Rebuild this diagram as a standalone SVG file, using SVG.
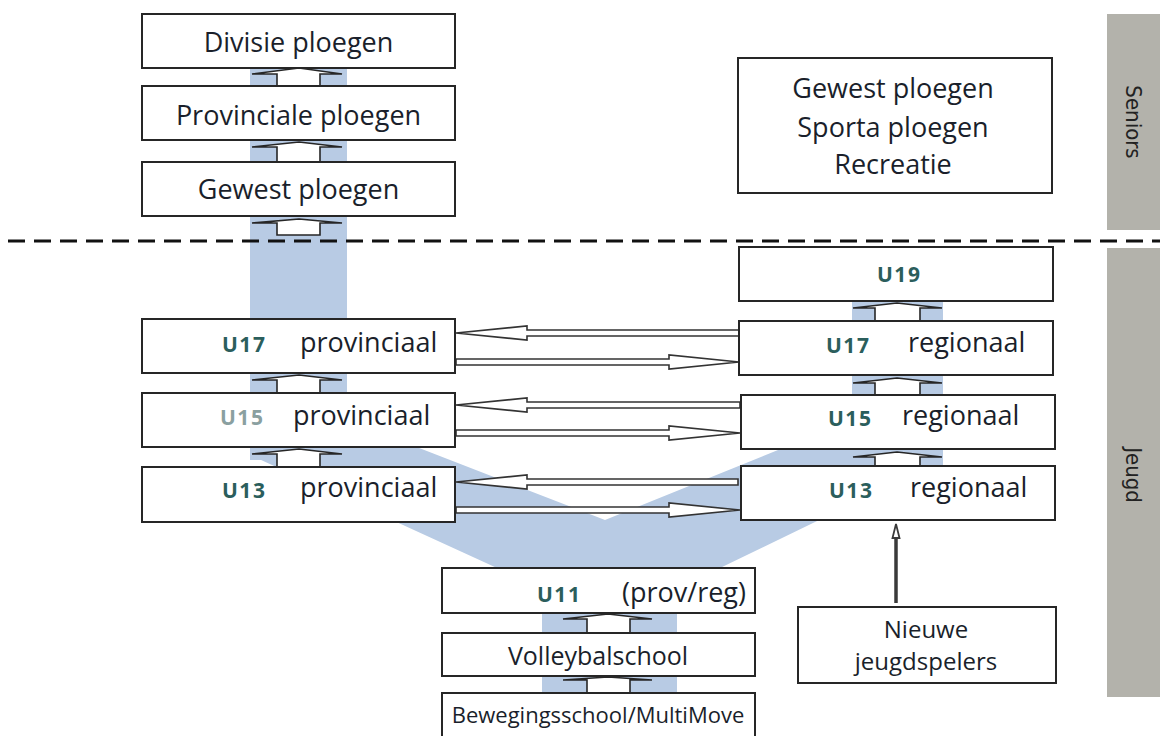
<svg xmlns="http://www.w3.org/2000/svg" width="1160" height="736" viewBox="0 0 1160 736">
<style>
.box{fill:#fff;stroke:#262626;stroke-width:2}
.t{font-family:"Open Sans","Liberation Sans",sans-serif;font-size:27px;fill:#1a1f2b}
.u{font-family:"Open Sans","Liberation Sans",sans-serif;font-size:21px;font-weight:bold;letter-spacing:1.5px;fill:#2b5e5c}
.band{fill:#b8cbe4}
.up{fill:#fff;stroke:#262626;stroke-width:1.6;stroke-linejoin:miter}
.ha{fill:#fff;stroke:#333;stroke-width:1.6}
.side{fill:#b3b2ab}
.st{font-family:"DejaVu Sans Condensed","DejaVu Sans","Liberation Sans",sans-serif;font-stretch:condensed;font-size:22px;fill:#222}
</style>
<rect width="1160" height="736" fill="#fff"/>

<g id="bands">
<rect class="band" x="250" y="68" width="97" height="392"/>
<rect class="band" x="852" y="301" width="91" height="165"/>
<polygon class="band" points="250,455 347,420 605,520 852,420 943,460 720,568 497,568"/>
<rect class="band" x="542" y="560" width="135" height="176"/>
</g>

<g id="side-bars">
<rect class="side" x="1107" y="14" width="53" height="216"/>
<rect class="side" x="1107" y="248" width="53" height="449"/>
<text class="st" transform="translate(1126,122) rotate(90)" text-anchor="middle">Seniors</text>
<text class="st" transform="translate(1126,475) rotate(90)" text-anchor="middle">Jeugd</text>
</g>

<line id="divider" x1="0" y1="241" x2="1160" y2="241" stroke="#111" stroke-width="3" stroke-dasharray="17 9" stroke-dashoffset="-8"/>

<g id="connectors">
<polygon class="up" points="299,68 342,74 320,74 320,86 277,86 277,74 252,74"/>
<polygon class="up" points="299,142 342,147 320,147 320,162 277,162 277,147 252,147"/>
<polygon class="up" points="299,219 342,223 320,223 320,235 277,235 277,223 252,223"/>
<polygon class="up" points="299,375 342,380 320,380 320,393 277,393 277,380 252,380"/>
<polygon class="up" points="299,449 342,454 320,454 320,467 277,467 277,454 252,454"/>
<polygon class="up" points="897,303 942,308 920,308 920,321 875,321 875,308 853,308"/>
<polygon class="up" points="897,378 942,383 920,383 920,395 875,395 875,383 853,383"/>
<polygon class="up" points="897,452 942,457 920,457 920,466 875,466 875,457 853,457"/>
<polygon class="up" points="608,614 652,619 630,619 630,633 587,633 587,619 563,619"/>
<polygon class="up" points="608,677 652,680 630,680 630,693 587,693 587,680 563,680"/>
<path class="ha" d="M456,333 L527,326 L527,330 L739,330 L739,336 L527,336 L527,340 Z"/>
<path class="ha" d="M456,359 L669,359 L669,355 L739,362 L669,369 L669,365 L456,365 Z"/>
<path class="ha" d="M456,405 L527,398 L527,402 L740,402 L740,408 L527,408 L527,412 Z"/>
<path class="ha" d="M456,430 L669,430 L669,426 L740,433 L669,440 L669,436 L456,436 Z"/>
<path class="ha" d="M456,482 L527,475 L527,479 L738,479 L738,485 L527,485 L527,489 Z"/>
<path class="ha" d="M456,507 L669,507 L669,503 L740,510 L669,517 L669,513 L456,513 Z"/>
<line x1="896" y1="603" x2="896" y2="537" stroke="#3a3a3a" stroke-width="3.5"/>
<polygon points="896,524 899.5,538 892.5,538" fill="#fff" stroke="#3a3a3a" stroke-width="1.8"/>
</g>

<g id="divisie"><rect class="box" x="142" y="14" width="313" height="54"/><text class="t" x="298.5" y="52" text-anchor="middle">Divisie ploegen</text></g>
<g id="provinciale"><rect class="box" x="142" y="86" width="313" height="54"/><text class="t" x="298.5" y="125" text-anchor="middle">Provinciale ploegen</text></g>
<g id="gewest"><rect class="box" x="142" y="162" width="313" height="54"/><text class="t" x="298.5" y="199" text-anchor="middle">Gewest ploegen</text></g>

<g id="seniors-other"><rect class="box" x="738" y="58" width="314" height="135"/>
<text class="t" x="893" y="98" text-anchor="middle">Gewest ploegen</text>
<text class="t" x="893" y="137" text-anchor="middle">Sporta ploegen</text>
<text class="t" x="893" y="174" text-anchor="middle">Recreatie</text></g>

<g id="u17p"><rect class="box" x="142" y="319" width="313" height="54"/><text class="u" x="222" y="352">U17</text><text class="t" x="300" y="352">provinciaal</text></g>
<g id="u15p"><rect class="box" x="142" y="393" width="313" height="54"/><text class="u" x="220" y="425" style="fill:#8aa0a0">U15</text><text class="t" x="293" y="425">provinciaal</text></g>
<g id="u13p"><rect class="box" x="142" y="467" width="313" height="55"/><text class="u" x="222" y="498">U13</text><text class="t" x="300" y="497">provinciaal</text></g>

<g id="u19"><rect class="box" x="739" y="247" width="314" height="54"/><text class="u" x="877" y="282">U19</text></g>
<g id="u17r"><rect class="box" x="739" y="321" width="314" height="54"/><text class="u" x="826" y="353">U17</text><text class="t" x="908" y="352">regionaal</text></g>
<g id="u15r"><rect class="box" x="741" y="395" width="314" height="54"/><text class="u" x="828" y="426">U15</text><text class="t" x="902" y="425">regionaal</text></g>
<g id="u13r"><rect class="box" x="741" y="466" width="314" height="54"/><text class="u" x="829" y="498">U13</text><text class="t" x="910" y="497">regionaal</text></g>

<g id="u11"><rect class="box" x="442" y="568" width="313" height="45"/><text class="u" x="537" y="602">U11</text><text class="t" x="622" y="602">(prov/reg)</text></g>
<g id="volleybalschool"><rect class="box" x="442" y="633" width="313" height="43"/><text class="t" x="598" y="665" text-anchor="middle" style="font-size:25px">Volleybalschool</text></g>
<g id="bewegingsschool"><rect class="box" x="442" y="693" width="313" height="50"/><text class="t" x="598" y="723" text-anchor="middle" style="font-size:22px">Bewegingsschool/MultiMove</text></g>

<g id="nieuwe"><rect class="box" x="798" y="607" width="258" height="76"/>
<text class="t" x="926" y="638" text-anchor="middle" style="font-size:24px">Nieuwe</text>
<text class="t" x="926" y="670" text-anchor="middle" style="font-size:24px">jeugdspelers</text></g>
</svg>
